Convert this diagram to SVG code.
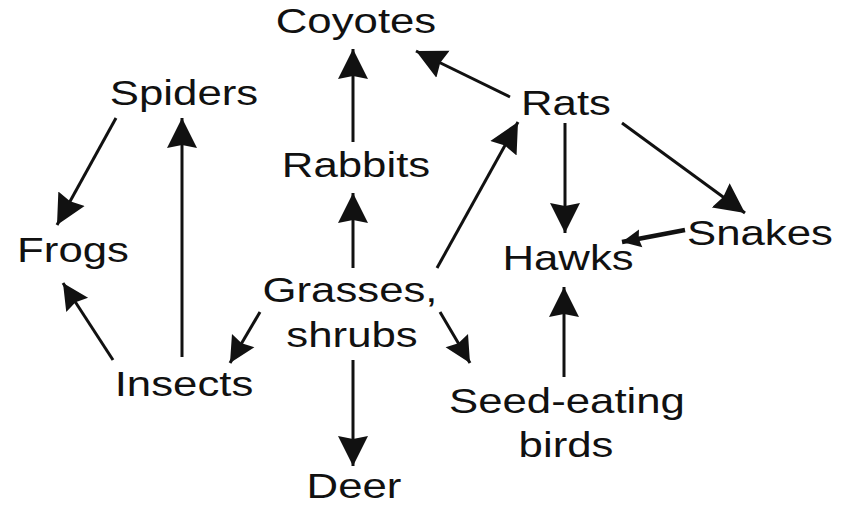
<svg xmlns="http://www.w3.org/2000/svg" width="849" height="505" viewBox="0 0 849 505">
<style>
text{font-family:"Liberation Sans",Arial,sans-serif;font-size:35px;fill:#111;text-anchor:middle}
.c line{stroke:#111;stroke-width:3;marker-end:url(#ah)}
.c line.s{marker-end:url(#as)}
.c line.t{stroke-width:4.5;marker-end:url(#at)}
</style>
<defs>
<marker id="ah" markerUnits="userSpaceOnUse" viewBox="-30 -16 31 32" refX="0" refY="0" markerWidth="31" markerHeight="32" orient="auto"><path d="M0,0 L-30,-15 L-27,0 L-30,15 Z" fill="#111"/></marker>
<marker id="as" markerUnits="userSpaceOnUse" viewBox="-27 -14 28 28" refX="0" refY="0" markerWidth="28" markerHeight="28" orient="auto"><path d="M0,0 L-26,-13 L-23,0 L-26,13 Z" fill="#111"/></marker>
<marker id="at" markerUnits="userSpaceOnUse" viewBox="-20 -10 21 20" refX="0" refY="0" markerWidth="21" markerHeight="20" orient="auto"><path d="M0,0 L-19,-9 L-17,0 L-19,9 Z" fill="#111"/></marker>
</defs>
<g class="c" id="connectors">
<line x1="353" y1="142" x2="353" y2="49"/>
<line x1="353" y1="268" x2="353" y2="193"/>
<line x1="116" y1="118" x2="57" y2="225"/>
<line x1="182" y1="357" x2="182" y2="118"/>
<line class="s" x1="113" y1="360" x2="63" y2="283"/>
<line class="s" x1="260" y1="312" x2="230" y2="363"/>
<line x1="353" y1="360" x2="353" y2="466"/>
<line x1="510" y1="97" x2="416" y2="51"/>
<line x1="437" y1="268" x2="518" y2="122"/>
<line x1="565" y1="123" x2="565" y2="233"/>
<line x1="622" y1="123" x2="745" y2="213"/>
<line class="t" x1="685" y1="230" x2="622" y2="242"/>
<line class="s" x1="440" y1="312" x2="470" y2="363"/>
<line x1="564" y1="377" x2="564" y2="287"/>
</g>
<g id="coyotes"><text transform="translate(356,33) scale(1.25,1)">Coyotes</text></g>
<g id="spiders"><text transform="translate(184,105) scale(1.25,1)">Spiders</text></g>
<g id="rabbits"><text transform="translate(356,177) scale(1.25,1)">Rabbits</text></g>
<g id="rats"><text transform="translate(566,115) scale(1.25,1)">Rats</text></g>
<g id="frogs"><text transform="translate(73,262) scale(1.25,1)">Frogs</text></g>
<g id="hawks"><text transform="translate(568,270) scale(1.25,1)">Hawks</text></g>
<g id="snakes"><text transform="translate(760,245) scale(1.25,1)">Snakes</text></g>
<g id="grasses"><text transform="translate(350,302) scale(1.25,1)">Grasses,</text><text transform="translate(352,347) scale(1.25,1)">shrubs</text></g>
<g id="insects"><text transform="translate(184,396) scale(1.25,1)">Insects</text></g>
<g id="deer"><text transform="translate(354,498) scale(1.25,1)">Deer</text></g>
<g id="seed-eating-birds"><text transform="translate(567,413) scale(1.25,1)">Seed-eating</text><text transform="translate(566,457) scale(1.25,1)">birds</text></g>
</svg>
